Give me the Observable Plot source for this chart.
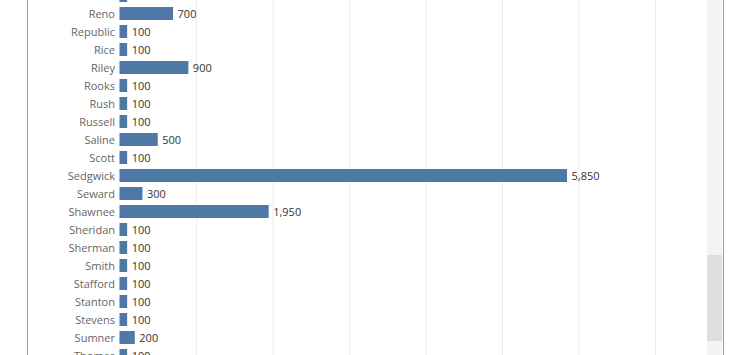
<!DOCTYPE html>
<html><head><meta charset="utf-8">
<script src="https://cdn.jsdelivr.net/npm/d3@7"></script>
<script src="https://cdn.jsdelivr.net/npm/@observablehq/plot@0.6"></script>
<style>
html,body{margin:0;padding:0;background:#fff;}
#wrap{position:relative;width:740px;height:355px;overflow:hidden;background:#fff;}
#chart{position:absolute;left:0;top:0;width:740px;height:355px;overflow:hidden;}
#chart svg{overflow:hidden;}
.bl{position:absolute;top:0;width:1px;height:355px;background:#8e9ab3;}
#track{position:absolute;left:707px;top:0;width:15px;height:355px;background:#f3f3f3;}
#thumb{position:absolute;left:707px;top:255px;width:15px;height:86px;background:#dedede;}
</style></head><body>
<div id="wrap"><div id="chart"></div><div id="track"></div><div id="thumb"></div><div class="bl" style="left:27px"></div><div class="bl" style="left:723px"></div></div>
<script>
const counties = ["Rawlins","Reno","Republic","Rice","Riley","Rooks","Rush","Russell","Saline","Scott","Sedgwick","Seward","Shawnee","Sheridan","Sherman","Smith","Stafford","Stanton","Stevens","Sumner","Thomas"];
const values = [100,700,100,100,900,100,100,100,500,100,5850,300,1950,100,100,100,100,100,100,200,100];
const gridTicks = [1000,2000,3000,4000,5000,6000,7000];

const data = counties.map((c, i) => ({county: c, value: values[i]}));
const fmt = d3.format(",");

const chart = Plot.plot({
  width: 740,
  height: 355,
  marginLeft: 0, marginRight: 0, marginTop: 0, marginBottom: 0,
  style: {fontFamily: "'Open Sans', sans-serif", fontSize: "11px", background: "transparent"},
  x: {domain: [0, 7680], range: [119.5, 707], axis: null},
  y: {domain: counties, range: [-15.5, 366], paddingInner: 0.28, paddingOuter: 0.14, axis: null},
  marks: [
    Plot.ruleX(gridTicks, {stroke: "#ececec", strokeWidth: 1}),
    Plot.barX(data, {x: "value", y: "county", fill: "#4e79a7"}),
    Plot.text(data, {x: 0, y: "county", text: "county", textAnchor: "end", dx: -5, fill: "#666", fontSize: 11}),
    Plot.text(data, {x: "value", y: "county", text: d => fmt(d.value), textAnchor: "start", dx: 4, fill: "#333", fontSize: 11})
  ]
});
document.getElementById("chart").appendChild(chart);
</script>
</body></html>
